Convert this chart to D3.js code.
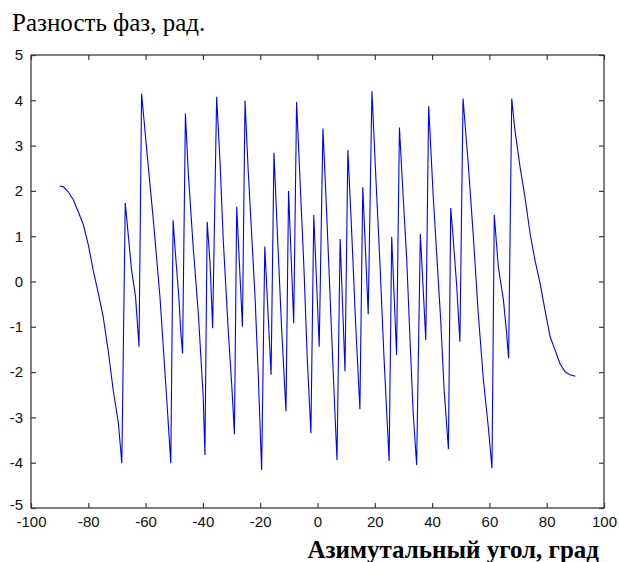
<!DOCTYPE html>
<html>
<head>
<meta charset="utf-8">
<script src="https://cdn.jsdelivr.net/npm/d3@7"></script>
<style>
  body { margin: 0; background: #fff; }
  svg { display: block; }
</style>
</head>
<body>
<div id="chart"></div>
<script>
var angles = [
  -90, -88.7, -87.0, -85.2, -83.5, -81.7, -80.0, -78.3, -76.5, -74.8, -73.0, -71.3, -69.5, -68.3,
  -67.1, -66.0, -64.9, -63.5, -62.3, -61.4, -59.6, -57.3, -55.0, -52.6, -51.2,
  -50.4, -49.6, -48.4, -47.7, -47.1, -46.1, -45.1, -43.4, -41.6, -39.9, -39.3,
  -38.5, -37.5, -36.6, -35.2, -34.0, -32.9, -31.1, -29.9, -29.0,
  -28.2, -26.2, -25.3, -24.2, -23.0, -21.8, -20.7, -19.5,
  -18.4, -16.2, -15.2, -14.0, -12.5, -11.0,
  -10.1, -8.3, -7.3, -6.1, -4.7, -3.6, -2.3,
  -1.3, 0.6, 1.9, 3.2, 4.4, 5.5, 6.8,
  7.9, 9.6, 10.6, 11.9, 13.3, 14.8,
  15.8, 17.7, 19.0, 20.3, 21.8, 23.2, 25.0,
  25.9, 27.6, 28.6, 29.9, 31.1, 32.3, 33.4, 34.6,
  35.9, 37.8, 38.8, 40.4, 41.8, 43.0, 44.2, 45.7,
  46.5, 47.4, 48.6, 49.7, 50.8, 52.6, 54.4, 56.1, 57.9, 59.6, 60.9,
  61.7, 63.1, 64.9, 66.0, 66.7, 67.8,
  68.9, 70.7, 72.4, 74.2, 75.9, 77.7, 79.4, 81.2, 82.9, 84.6, 86.4, 88.1, 90
];
var phase = [
  2.11, 2.09, 1.98, 1.80, 1.54, 1.25, 0.81, 0.25, -0.26, -0.78, -1.55, -2.40, -3.13, -4.01,
  1.73, 0.99, 0.25, -0.34, -1.44, 4.15, 2.90, 1.36, -0.33, -2.62, -4.01,
  1.35, 0.63, -0.34, -1.14, -1.59, 3.71, 2.39, 0.77, -0.70, -2.54, -3.83,
  1.32, 0.40, -1.03, 4.08, 2.61, 0.92, -1.14, -2.32, -3.37,
  1.65, -1.00, 3.99, 2.46, 1.06, -0.34, -2.03, -4.16,
  0.77, -2.06, 2.84, 1.06, -1.07, -2.87,
  2.00, -0.92, 3.96, 2.24, 0.25, -1.66, -3.35,
  1.47, -1.44, 3.38, 1.51, -0.34, -2.03, -3.94,
  0.94, -1.98, 2.90, 1.14, -0.92, -2.82,
  2.08, -0.72, 4.20, 2.39, 0.40, -1.66, -3.96,
  0.99, -1.62, 3.40, 1.87, 0.55, -1.29, -2.91, -4.05,
  1.05, -1.29, 3.87, 1.87, 0.40, -0.85, -2.40, -3.70,
  1.62, 0.92, -0.11, -1.33, 4.04, 2.61, 0.99, -0.70, -2.17, -3.20, -4.12,
  1.47, 0.33, -0.41, -1.14, -1.70, 4.04,
  3.34, 2.53, 1.87, 1.06, 0.47, -0.04, -0.63, -1.22, -1.51, -1.81, -1.99, -2.06, -2.09
];
var xTicks = [-100, -80, -60, -40, -20, 0, 20, 40, 60, 80, 100];
var yTicks = [-5, -4, -3, -2, -1, 0, 1, 2, 3, 4, 5];
var titleText = "Разность фаз, рад.";
var xLabelText = "Азимутальный угол, град";

var W = 619, H = 562;
var margin = {top: 55, right: 15, bottom: 54, left: 31};
var width = W - margin.left - margin.right;
var height = H - margin.top - margin.bottom;

var data = angles.map(function(a, i) { return {x: a, y: phase[i]}; });

var x = d3.scaleLinear().domain([-100, 100]).range([0, width]);
var y = d3.scaleLinear().domain([-5, 5]).range([height, 0]);

// подписи засечек с обычным дефисом, как в MATLAB
var fmt = function(d) { return String(d); };

var svg = d3.select("#chart").append("svg")
  .attr("width", W)
  .attr("height", H);

var g = svg.append("g")
  .attr("transform", "translate(" + [margin.left, margin.top] + ")");

// линия
var line = d3.line()
  .x(function(d) { return x(d.x); })
  .y(function(d) { return y(d.y); });

g.append("path")
  .datum(data)
  .attr("d", line)
  .attr("fill", "none")
  .attr("stroke", "#0000ff")
  .attr("stroke-width", 1.1);

// оси (в стиле MATLAB: рамка, засечки внутрь)
var axisColor = "#3c3c3c";
function styleAxis(sel) {
  sel.select(".domain").remove();
  sel.selectAll(".tick line").attr("stroke", axisColor).attr("stroke-width", 1.2);
  sel.selectAll(".tick text")
    .attr("fill", "#111")
    .style("font-family", "'Liberation Sans', Arial, sans-serif")
    .style("font-size", "15px");
}

g.append("g")
  .attr("transform", "translate(0," + height + ")")
  .call(d3.axisBottom(x).tickValues(xTicks).tickSize(-5).tickPadding(8).tickFormat(fmt))
  .call(styleAxis);

g.append("g")
  .call(d3.axisLeft(y).tickValues(yTicks).tickSize(-5).tickPadding(8).tickFormat(fmt))
  .call(styleAxis)
  .selectAll(".tick text")
    .filter(function(d) { return d === -5; })
    .attr("dy", "0.1em");

g.append("g")
  .call(d3.axisTop(x).tickValues(xTicks).tickSize(-5).tickFormat(""))
  .call(styleAxis);

g.append("g")
  .attr("transform", "translate(" + width + ",0)")
  .call(d3.axisRight(y).tickValues(yTicks).tickSize(-5).tickFormat(""))
  .call(styleAxis);

g.append("rect")
  .attr("width", width)
  .attr("height", height)
  .attr("fill", "none")
  .attr("stroke", axisColor)
  .attr("stroke-width", 1.3);

// подписи
svg.append("text")
  .attr("x", 12)
  .attr("y", 31)
  .style("font-family", "'Liberation Serif', 'Times New Roman', serif")
  .style("font-size", "25px")
  .attr("fill", "#000")
  .text(titleText);

svg.append("text")
  .attr("x", 599)
  .attr("y", 558)
  .attr("text-anchor", "end")
  .style("font-family", "'Liberation Serif', 'Times New Roman', serif")
  .style("font-size", "25px")
  .style("font-weight", "bold")
  .attr("fill", "#000")
  .text(xLabelText);
</script>
</body>
</html>
